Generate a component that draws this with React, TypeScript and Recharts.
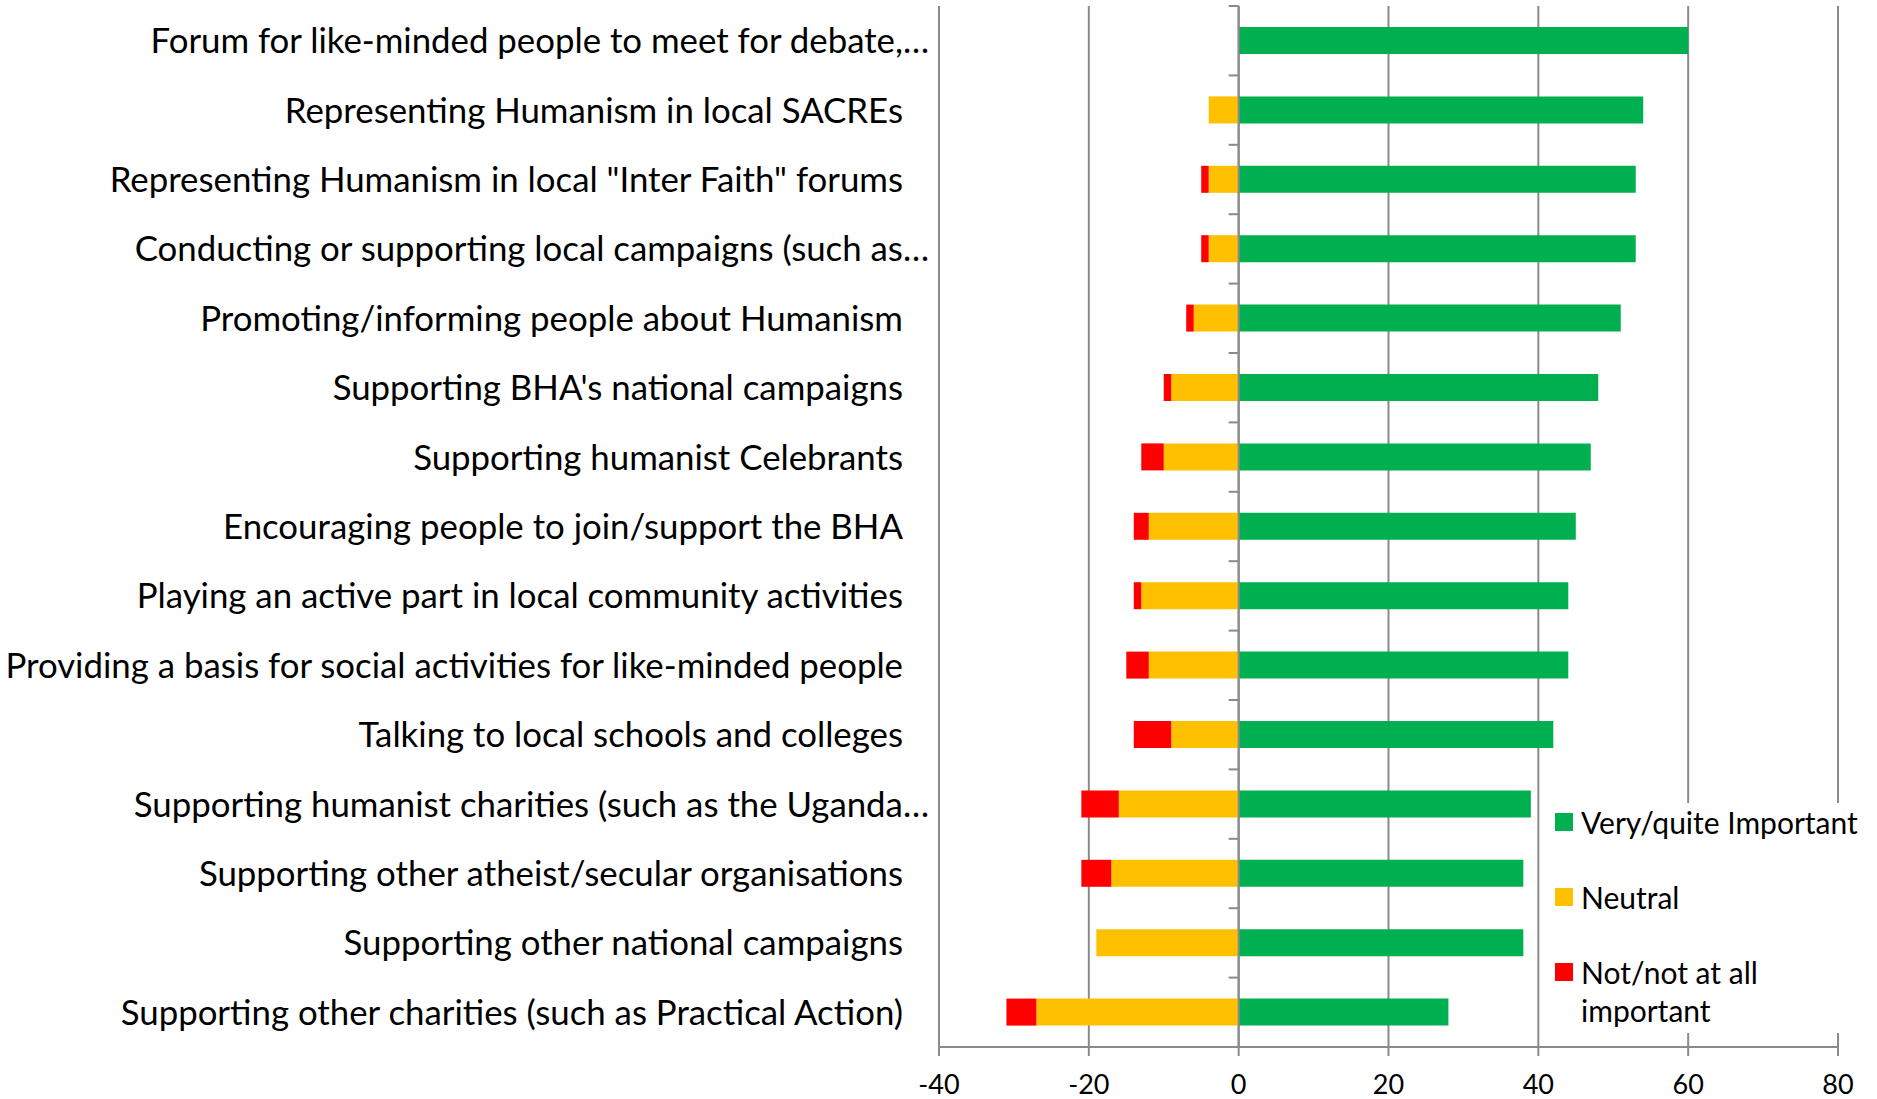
import { BarChart, Bar, XAxis, YAxis, CartesianGrid, ReferenceLine, Legend } from "recharts";

const categories = [
  "Forum for like-minded people to meet for debate,…",
  "Representing Humanism in local SACREs",
  "Representing Humanism in local \"Inter Faith\" forums",
  "Conducting or supporting local campaigns (such as…",
  "Promoting/informing people about Humanism",
  "Supporting BHA's national campaigns",
  "Supporting humanist Celebrants",
  "Encouraging people to join/support the BHA",
  "Playing an active part in local community activities",
  "Providing a basis for social activities for like-minded people",
  "Talking to local schools and colleges",
  "Supporting humanist charities (such as the Uganda…",
  "Supporting other atheist/secular organisations",
  "Supporting other national campaigns",
  "Supporting other charities (such as Practical Action)",
];

const seriesNames = ["Very/quite Important", "Neutral", "Not/not at all important"];
const important = [60, 54, 53, 53, 51, 48, 47, 45, 44, 44, 42, 39, 38, 38, 28];
const neutral = [0, 4, 4, 4, 6, 9, 10, 12, 13, 12, 9, 16, 17, 19, 27];
const notImportant = [0, 0, 1, 1, 1, 1, 3, 2, 1, 3, 5, 5, 4, 0, 4];

const xTicks = [-40, -20, 0, 20, 40, 60, 80];

const data = categories.map((name, i) => ({
  name,
  important: important[i],
  neutral: -neutral[i],
  notImportant: -notImportant[i],
}));

const FONT = "Lato, 'Liberation Sans', sans-serif";
const GRAY = "#8a8a8a";

const CategoryTick = (props: any) => {
  const { x, y, payload } = props;
  const label: string = payload.value;
  const cut = label.endsWith("…");
  return (
    <text
      x={x + (cut ? -2 : -28)}
      y={y}
      dy="0.36em"
      textAnchor="end"
      fontFamily={FONT}
      fontSize={34.8}
      fill="#000"
    >
      {label}
    </text>
  );
};

// axis line at zero with small tick marks between categories
const ZeroAxis = (props: any) => {
  const { x1, y1, x2, y2 } = props;
  const n = categories.length;
  const step = (y2 - y1) / n;
  const marks = [];
  for (let i = 0; i <= n; i++) {
    const y = y1 + i * step;
    marks.push(<line key={i} x1={x1 - 10} x2={x1} y1={y} y2={y} stroke={GRAY} strokeWidth={2} />);
  }
  return (
    <g>
      <line x1={x1} y1={y1} x2={x2} y2={y2} stroke={GRAY} strokeWidth={2} />
      {marks}
    </g>
  );
};

const LegendContent = (props: any) => {
  const items = [...(props.payload || [])].sort(
    (a: any, b: any) => seriesNames.indexOf(a.value) - seriesNames.indexOf(b.value)
  );
  return (
    <div style={{ fontFamily: FONT, fontSize: 30, lineHeight: "38px", color: "#000" }}>
      {items.map((item: any, i: number) => (
        <div key={i} style={{ display: "flex", alignItems: "flex-start", marginBottom: 37 }}>
          <div style={{ width: 18, height: 18, marginTop: 10, marginRight: 8, background: item.color, flexShrink: 0 }} />
          <div style={{ width: 290 }}>{item.value}</div>
        </div>
      ))}
    </div>
  );
};

export default function App() {
  return (
    <div style={{ position: "absolute", left: 0, top: 0, background: "#fff" }}>
      <BarChart
        width={1877}
        height={1099}
        data={data}
        layout="vertical"
        stackOffset="sign"
        margin={{ top: 6, right: 39, bottom: 0, left: 0 }}
      >
        <CartesianGrid horizontal={false} stroke={GRAY} strokeWidth={2} />
        <XAxis
          type="number"
          domain={[-40, 80]}
          ticks={xTicks}
          height={52}
          axisLine={{ stroke: GRAY, strokeWidth: 2 }}
          tickLine={{ stroke: GRAY, strokeWidth: 2 }}
          tickSize={9}
          tickMargin={19}
          tick={{ fill: "#000", fontFamily: FONT, fontSize: 27 }}
        />
        <YAxis
          type="category"
          dataKey="name"
          width={939}
          axisLine={false}
          tickLine={false}
          interval={0}
          tick={<CategoryTick />}
        />
        <Bar dataKey="important" name={seriesNames[0]} stackId="s" fill="#00B050" barSize={27} isAnimationActive={false} />
        <Bar dataKey="neutral" name={seriesNames[1]} stackId="s" fill="#FFC000" barSize={27} isAnimationActive={false} />
        <Bar dataKey="notImportant" name={seriesNames[2]} stackId="s" fill="#FF0000" barSize={27} isAnimationActive={false} />
        <ReferenceLine x={0} shape={<ZeroAxis />} />
        <Legend
          layout="vertical"
          align="center"
          verticalAlign="middle"
          content={<LegendContent />}
          wrapperStyle={{
            position: "absolute",
            left: 1545,
            top: 803,
            width: 325,
            height: 230,
            paddingLeft: 10,
            boxSizing: "border-box",
            background: "#fff",
          }}
        />
      </BarChart>
    </div>
  );
}
